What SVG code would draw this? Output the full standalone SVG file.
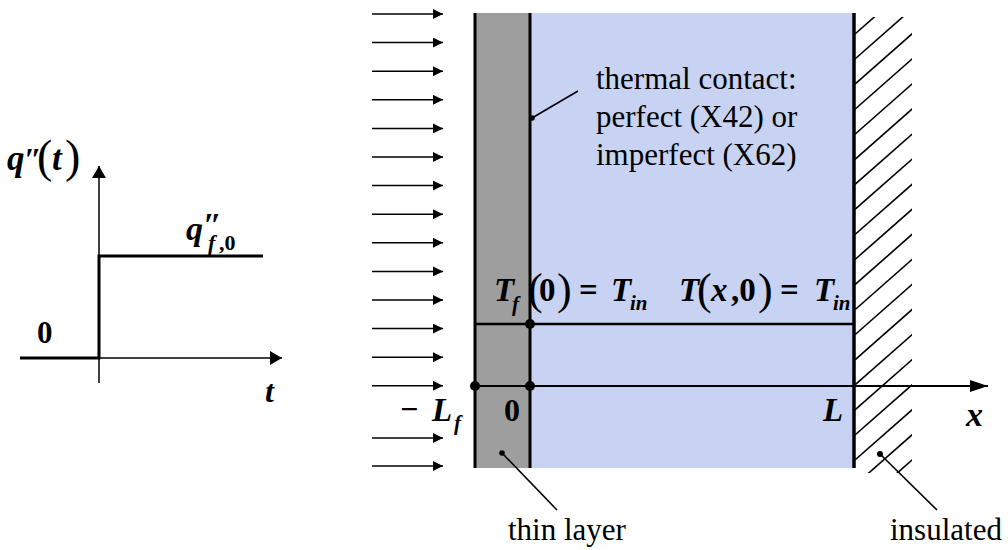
<svg xmlns="http://www.w3.org/2000/svg" width="1008" height="550" viewBox="0 0 1008 550">
<style>
.ln{stroke:#000;fill:none}
.thk{stroke:#000;stroke-width:3;fill:none}
.thin{stroke:#000;stroke-width:1.5;fill:none}
.hat{stroke:#000;stroke-width:1.6}
text{font-family:'Liberation Serif','Times New Roman','DejaVu Serif','Noto Serif',serif;fill:#000}
.lbl{font-size:31px}
.mi{font-weight:bold;font-style:italic}
.mb{font-weight:bold;font-style:normal}
.pr{font-weight:normal;font-style:normal}
</style>
<defs>
<marker id="ah" viewBox="0 0 10 10" refX="10" refY="5" markerWidth="10" markerHeight="10" markerUnits="userSpaceOnUse" orient="auto">
<path d="M0,0 L10,5 L0,10 z" fill="#000"/>
</marker>
<marker id="ahx" viewBox="0 0 18 12" refX="18" refY="6" markerWidth="18" markerHeight="12" markerUnits="userSpaceOnUse" orient="auto">
<path d="M0,0 L18,6 L0,12 z" fill="#000"/>
</marker>
<marker id="ahs" viewBox="0 0 12 14" refX="12" refY="7" markerWidth="12" markerHeight="14" markerUnits="userSpaceOnUse" orient="auto">
<path d="M0,0 L12,7 L0,14 z" fill="#000"/>
</marker>
<clipPath id="hc"><rect x="855" y="17" width="57" height="456"/></clipPath>
</defs>

<g id="graph">
<line class="thin" x1="99" y1="383" x2="99" y2="166" marker-end="url(#ahs)"/>
<line class="thin" x1="20" y1="358" x2="282" y2="358" marker-end="url(#ahs)"/>
<polyline class="thk" points="20,358 99,358 99,256 263,256"/>
<text y="170" class="mi" font-size="35"><tspan x="7">q</tspan><tspan x="24" font-size="32">″</tspan><tspan x="37" class="pr" font-size="46" y="172">(</tspan><tspan x="52" y="170">t</tspan><tspan x="65" class="pr" font-size="46" y="172">)</tspan></text>
<text y="240" class="mi" font-size="34"><tspan x="186">q</tspan><tspan x="203" y="236">″</tspan><tspan x="208" y="250" font-size="22">f</tspan><tspan x="219" y="250" class="mb" font-size="22">,0</tspan></text>
<text x="37" y="343" class="mb" font-size="31">0</text>
<text x="265" y="402" class="mi" font-size="32">t</text>
</g>

<g id="flux">
<line class="thin" x1="372" y1="14" x2="443" y2="14" marker-end="url(#ah)"/>
<line class="thin" x1="372" y1="42.6" x2="443" y2="42.6" marker-end="url(#ah)"/>
<line class="thin" x1="372" y1="71.2" x2="443" y2="71.2" marker-end="url(#ah)"/>
<line class="thin" x1="372" y1="99.8" x2="443" y2="99.8" marker-end="url(#ah)"/>
<line class="thin" x1="372" y1="128.4" x2="443" y2="128.4" marker-end="url(#ah)"/>
<line class="thin" x1="372" y1="157" x2="443" y2="157" marker-end="url(#ah)"/>
<line class="thin" x1="372" y1="185.6" x2="443" y2="185.6" marker-end="url(#ah)"/>
<line class="thin" x1="372" y1="214.2" x2="443" y2="214.2" marker-end="url(#ah)"/>
<line class="thin" x1="372" y1="242.8" x2="443" y2="242.8" marker-end="url(#ah)"/>
<line class="thin" x1="372" y1="271.4" x2="443" y2="271.4" marker-end="url(#ah)"/>
<line class="thin" x1="372" y1="300" x2="443" y2="300" marker-end="url(#ah)"/>
<line class="thin" x1="372" y1="328.6" x2="443" y2="328.6" marker-end="url(#ah)"/>
<line class="thin" x1="372" y1="357.2" x2="443" y2="357.2" marker-end="url(#ah)"/>
<line class="thin" x1="372" y1="385.8" x2="443" y2="385.8" marker-end="url(#ah)"/>
<line class="thin" x1="372" y1="438" x2="443" y2="438" marker-end="url(#ah)"/>
<line class="thin" x1="372" y1="466" x2="443" y2="466" marker-end="url(#ah)"/>
</g>

<g id="layer">
<rect x="475" y="13" width="55" height="455" fill="#9e9e9e"/>
</g>
<g id="slab">
<rect x="530" y="13" width="324" height="455" fill="#c8d3f3"/>
</g>

<g id="insulation">
<g clip-path="url(#hc)">
<line class="hat" x1="855" y1="34" x2="925" y2="-27.6"/>
<line class="hat" x1="855" y1="59" x2="925" y2="-2.6"/>
<line class="hat" x1="855" y1="84.1" x2="925" y2="22.5"/>
<line class="hat" x1="855" y1="109.2" x2="925" y2="47.6"/>
<line class="hat" x1="855" y1="134.2" x2="925" y2="72.6"/>
<line class="hat" x1="855" y1="159.3" x2="925" y2="97.7"/>
<line class="hat" x1="855" y1="184.4" x2="925" y2="122.8"/>
<line class="hat" x1="855" y1="209.4" x2="925" y2="147.8"/>
<line class="hat" x1="855" y1="234.5" x2="925" y2="172.9"/>
<line class="hat" x1="855" y1="259.5" x2="925" y2="197.9"/>
<line class="hat" x1="855" y1="284.6" x2="925" y2="223"/>
<line class="hat" x1="855" y1="309.7" x2="925" y2="248.1"/>
<line class="hat" x1="855" y1="334.7" x2="925" y2="273.1"/>
<line class="hat" x1="855" y1="359.8" x2="925" y2="298.2"/>
<line class="hat" x1="855" y1="384.9" x2="925" y2="323.3"/>
<line class="hat" x1="855" y1="409.9" x2="925" y2="348.3"/>
<line class="hat" x1="855" y1="435" x2="925" y2="373.4"/>
<line class="hat" x1="855" y1="460" x2="925" y2="398.4"/>
<line class="hat" x1="855" y1="485.1" x2="925" y2="423.5"/>
<line class="hat" x1="855" y1="510.2" x2="925" y2="448.6"/>
</g>
</g>

<g id="connectors">
<line class="thk" x1="475" y1="13" x2="475" y2="468"/>
<line class="thk" x1="530" y1="13" x2="530" y2="468"/>
<line class="ln" stroke-width="3.5" x1="854" y1="13" x2="854" y2="468"/>
<line class="ln" stroke-width="2.5" x1="475" y1="324" x2="854" y2="324"/>
<line class="ln" stroke-width="2" x1="475" y1="386" x2="988" y2="386" marker-end="url(#ahx)"/>
<circle cx="475" cy="386" r="5" fill="#000"/>
<circle cx="530" cy="386" r="5" fill="#000"/>
<circle cx="530" cy="324" r="5" fill="#000"/>
<line class="ln" stroke-width="1.6" x1="532" y1="118" x2="578" y2="91"/>
<circle cx="532" cy="118" r="2.8" fill="#000"/>
<line class="ln" stroke-width="1.6" x1="502" y1="453" x2="557" y2="510"/>
<circle cx="502" cy="453" r="2.8" fill="#000"/>
<line class="ln" stroke-width="1.6" x1="880" y1="454" x2="937" y2="510"/>
<circle cx="880" cy="454" r="3" fill="#000"/>
</g>

<g id="labels">
<text class="lbl"><tspan x="596" y="89">thermal contact:</tspan><tspan x="596" y="127">perfect (X42) or</tspan><tspan x="596" y="165">imperfect (X62)</tspan></text>
<text x="508" y="540" class="lbl">thin layer</text>
<text x="890" y="540" class="lbl">insulated</text>
<text y="301" class="mi" font-size="33"><tspan x="494">T</tspan><tspan x="512" y="311" font-size="21">f</tspan><tspan x="528" y="304" class="pr" font-size="44">(</tspan><tspan x="539" y="301" class="mb">0</tspan><tspan x="557" y="304" class="pr" font-size="44">)</tspan><tspan x="579" y="301" class="mb">=</tspan><tspan x="611" y="301">T</tspan><tspan x="630" y="310" font-size="21">in</tspan></text>
<text y="301" class="mi" font-size="33"><tspan x="679">T</tspan><tspan x="697" y="304" class="pr" font-size="44">(</tspan><tspan x="711" y="301">x</tspan><tspan x="731" y="301" class="mb">,0</tspan><tspan x="758" y="304" class="pr" font-size="44">)</tspan><tspan x="780" y="301" class="mb">=</tspan><tspan x="814" y="301">T</tspan><tspan x="833" y="310" font-size="21">in</tspan></text>
<text x="400" y="420" class="mb" font-size="32">−</text>
<text x="432" y="421" class="mi" font-size="33">L</text>
<text x="454" y="430" class="mi" font-size="21">f</text>
<text x="504" y="421" class="mb" font-size="32">0</text>
<text x="823" y="421" class="mi" font-size="33">L</text>
<text x="966" y="426" class="mi" font-size="34">x</text>
</g>
</svg>
